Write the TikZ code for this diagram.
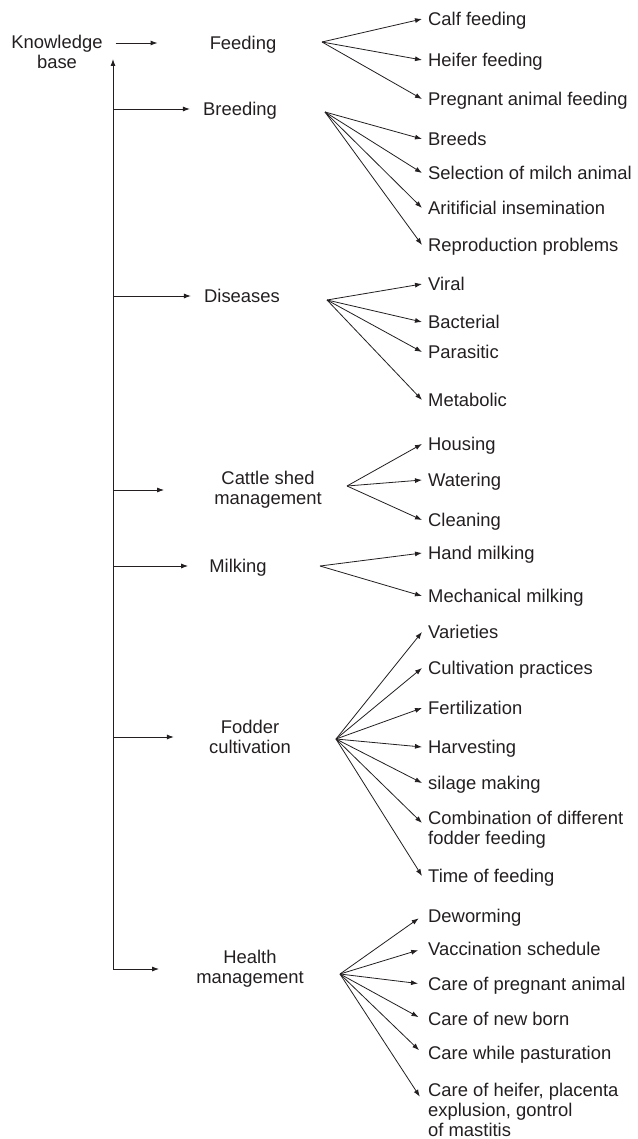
\documentclass[tikz,border=0pt]{standalone}
\usepackage{fontspec}
\setmainfont{Liberation Sans}
\usepackage{tikz}
\usetikzlibrary{positioning,arrows.meta,calc}
\definecolor{dInk}{RGB}{35,31,32}
\newcommand{\kbfont}{\fontsize{18.4}{20}\selectfont}
\tikzset{
  topic/.style={align=center, inner sep=0pt, font=\kbfont, text=dInk},
  item/.style={anchor=west, align=left, inner xsep=6pt, inner ysep=0pt,
               font=\kbfont, text=dInk},
  oneline/.style={text height=14.2pt, text depth=1pt},
  arr/.style={-{Latex[length=7pt,width=5pt]}, draw=dInk, line width=0.9pt},
}

\begin{document}
\begin{tikzpicture}[x=1pt,y=-1pt,
  every edge/.style={draw=dInk,line width=0.8pt,-{Latex[length=7pt,width=5pt]}}]
  \useasboundingbox (0,0) rectangle (637,1139);
  % main topics
  \node[topic]          (kb)    at (57,52)   {Knowledge\\base};
  \node[topic,oneline]  (feed)  at (243,43)  {Feeding};
  \node[topic,oneline]  (breed) at (240,109) {Breeding};
  \node[topic,oneline]  (dis)   at (242,296) {Diseases};
  \node[topic]          (shed)  at (268,490) {Cattle shed\\management};
  \node[topic,oneline]  (milk)  at (238,566) {Milking};
  \node[topic]          (fod)   at (250,737) {Fodder\\cultivation};
  \node[topic]          (hlth)  at (250,969) {Health\\management};
  % spine
  \coordinate (sTop)   at (113,59);
  \coordinate (sBreed) at (sTop |- breed);
  \coordinate (sDis)   at (sTop |- dis);
  \coordinate (sShed)  at (sTop |- shed);
  \coordinate (sMilk)  at (sTop |- milk);
  \coordinate (sFod)   at (sTop |- fod);
  \coordinate (sHlth)  at (sTop |- hlth);
  \draw[arr] (sHlth) -- (sTop);
  \draw[arr, shorten <=13pt, shorten >=52pt] (kb.east |- feed) -- (feed);
  \draw[arr, shorten >=13pt] (sBreed) -- (breed);
  \draw[arr, shorten >=13pt] (sDis)   -- (dis);
  \draw[arr, shorten >=50pt] (sShed)  -- (shed);
  \draw[arr, shorten >=21pt] (sMilk)  -- (milk);
  \draw[arr, shorten >=35pt] (sFod)   -- (fod);
  \draw[arr, shorten >=37pt] (sHlth)  -- (hlth);
  % fan points
  \coordinate (fFeed)  at (322,42);
  \coordinate (fBreed) at (325,112);
  \coordinate (fDis)   at (327,300);
  \coordinate (fShed)  at (347,486);
  \coordinate (fMilk)  at (320,566);
  \coordinate (fFod)   at (336,739);
  \coordinate (fHlth)  at (340,974);
  % feeding
  \node[item,oneline] (calf)  at (422,19)  {Calf feeding};
  \node[item,oneline] (heif)  at (422,60)  {Heifer feeding};
  \node[item,oneline] (preg)  at (422,99)  {Pregnant animal feeding};
  \draw (fFeed) edge (calf.west) edge (heif.west) edge (preg.west);
  % breeding
  \node[item,oneline] (breeds) at (422,139) {Breeds};
  \node[item,oneline] (sel)    at (422,173) {Selection of milch animal};
  \node[item,oneline] (ai)     at (422,208) {Aritificial insemination};
  \node[item,oneline] (repro)  at (422,245) {Reproduction problems};
  \draw (fBreed) edge (breeds.west) edge (sel.west) edge (ai.west) edge (repro.west);
  % diseases
  \node[item,oneline] (viral) at (422,284) {Viral};
  \node[item,oneline] (bact)  at (422,322) {Bacterial};
  \node[item,oneline] (para)  at (422,352) {Parasitic};
  \node[item,oneline] (meta)  at (422,400) {Metabolic};
  \draw (fDis) edge (viral.west) edge (bact.west) edge (para.west) edge (meta.west);
  % cattle shed
  \node[item,oneline] (house) at (422,444) {Housing};
  \node[item,oneline] (water) at (422,480) {Watering};
  \node[item,oneline] (clean) at (422,520) {Cleaning};
  \draw (fShed) edge (house.west) edge (water.west) edge (clean.west);
  % milking
  \node[item,oneline] (hand) at (422,553) {Hand milking};
  \node[item,oneline] (mech) at (422,596) {Mechanical milking};
  \draw (fMilk) edge (hand.west) edge (mech.west);
  % fodder
  \node[item,oneline] (var)  at (422,632) {Varieties};
  \node[item,oneline] (cult) at (422,668) {Cultivation practices};
  \node[item,oneline] (fert) at (422,708) {Fertilization};
  \node[item,oneline] (harv) at (422,747) {Harvesting};
  \node[item,oneline] (sil)  at (422,783) {silage making};
  \node[item]         (comb) at (422,830) {Combination of different\\fodder feeding};
  \node[item,oneline] (time) at (422,876) {Time of feeding};
  \draw (fFod) edge (var.west) edge (cult.west) edge (fert.west) edge (harv.west)
        edge (sil.west) edge ([yshift=7pt]comb.west) edge (time.west);
  % health
  \node[item,oneline] (dew)    at (422,916)  {Deworming};
  \node[item,oneline] (vac)    at (422,949)  {Vaccination schedule};
  \node[item,oneline] (cpreg)  at (422,984)  {Care of pregnant animal};
  \node[item,oneline] (cnew)   at (422,1019) {Care of new born};
  \node[item,oneline] (cwhile) at (422,1053) {Care while pasturation};
  \node[item]         (cheif)  at (422,1110) {Care of heifer, placenta\\explusion, gontrol\\of mastitis};
  \draw[shorten >=4pt] (fHlth) edge (dew.west) edge (vac.west) edge (cpreg.west)
        edge (cnew.west) edge (cwhile.west) edge ([yshift=10pt]cheif.west);
\end{tikzpicture}
\end{document}
